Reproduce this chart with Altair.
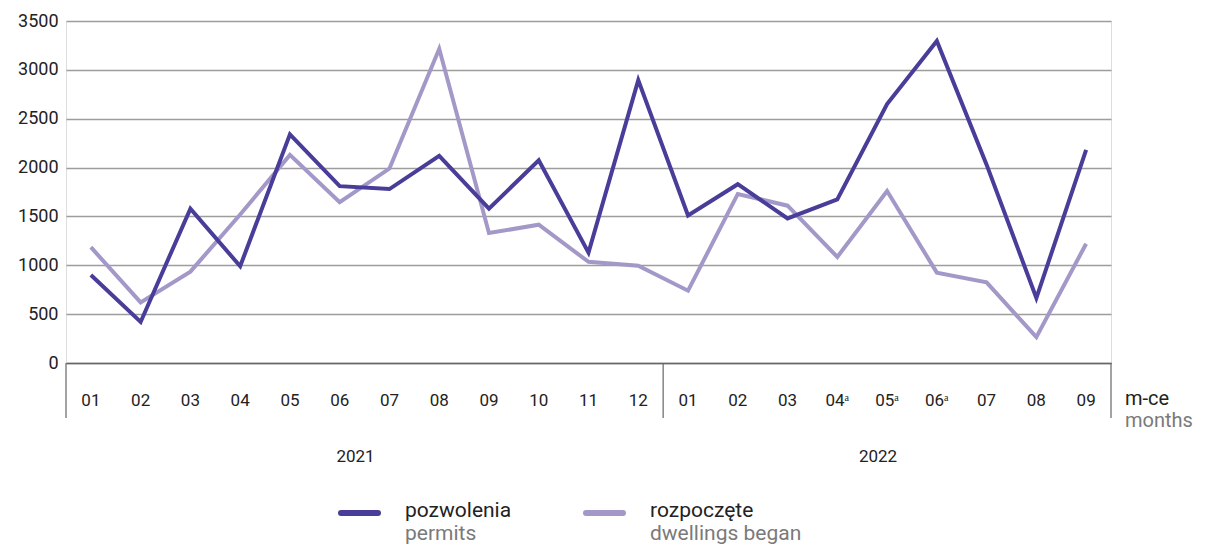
import altair as alt
import pandas as pd

# ---- data ----
years = ["2021"] * 12 + ["2022"] * 9
month_labels = ["01", "02", "03", "04", "05", "06", "07", "08", "09", "10", "11", "12",
                "01", "02", "03", "04ᵃ", "05ᵃ", "06ᵃ", "07", "08", "09"]
permits = [900, 420, 1580, 990, 2340, 1810, 1780, 2120, 1580, 2075, 1130, 2895,
           1510, 1830, 1480, 1675, 2650, 3295, 2030, 665, 2180]
began = [1185, 620, 935, 1520, 2130, 1645, 1990, 3215, 1330, 1415, 1035, 995,
         740, 1730, 1610, 1085, 1760, 925, 825, 265, 1220]
series_pl = ["pozwolenia", "rozpoczęte"]
series_en = ["permits", "dwellings began"]
colors = ["#483d98", "#a398c8"]
y_ticks = [0, 500, 1000, 1500, 2000, 2500, 3000, 3500]

keys = [f"{y} {m}" for y, m in zip(years, month_labels)]
long = pd.concat([
    pd.DataFrame({"key": keys, "value": permits, "series": series_pl[0]}),
    pd.DataFrame({"key": keys, "value": began, "series": series_pl[1]}),
])

W, H = 1045, 342
FONT = "Roboto"

xscale = alt.Scale(domain=keys, paddingInner=0, paddingOuter=0)
yscale = alt.Scale(domain=[0, 3500])
x_axis = alt.Axis(title=None, labelExpr="slice(datum.value, 5)", labelAngle=0,
                  ticks=False, domain=True, domainColor="#666666", domainWidth=1.5,
                  labelPadding=29, labelFontSize=17, labelColor="#222222",
                  labelFont=FONT, grid=False, labelOverlap=False)


def xe(bp=0.5):
    return alt.X("key:N", scale=xscale, sort=keys, bandPosition=bp, axis=x_axis)


y_enc = alt.Y("value:Q", scale=yscale,
              axis=alt.Axis(title=None, values=y_ticks, format="d", grid=True,
                            gridColor="#9d9d9d", gridWidth=1.5, domain=False, ticks=False,
                            labelPadding=8, labelFontSize=18, labelColor="#222222",
                            labelFont=FONT))

base = alt.Chart(long)

line_began = base.transform_filter(alt.datum.series == series_pl[1]).mark_line(
    strokeWidth=4, color=colors[1]).encode(x=xe(), y=y_enc)
line_perm = base.transform_filter(alt.datum.series == series_pl[0]).mark_line(
    strokeWidth=4, color=colors[0]).encode(x=xe(), y=y_enc)

# separators of the year groups on the x axis
seps = []
for k, bp in [(keys[0], 0), (keys[12], 0), (keys[-1], 1)]:
    seps.append(alt.Chart(pd.DataFrame({"key": [k]})).mark_rule(
        color="#666666", strokeWidth=1.2).encode(
        x=xe(bp), y=alt.value(H), y2=alt.value(H + 55)))

# year labels
year_text = []
for k, bp in [(keys[5], 1), (keys[16], 0.5)]:
    year_text.append(alt.Chart(pd.DataFrame({"key": [k], "t": [k[:4]]})).mark_text(
        fontSize=17, font=FONT, color="#222222", dx=-9, baseline="middle").encode(
        x=xe(bp), y=alt.value(H + 94), text="t:N"))

# "m-ce / months" axis title
mce = alt.Chart(pd.DataFrame({"key": [keys[-1]], "t": ["m-ce"]})).mark_text(
    fontSize=20, font=FONT, color="#222222", align="left", dx=14, baseline="middle").encode(
    x=xe(1), y=alt.value(H + 36), text="t:N")
months = alt.Chart(pd.DataFrame({"key": [keys[-1]], "t": ["months"]})).mark_text(
    fontSize=20, font=FONT, color="#7a7a7a", align="left", dx=14, baseline="middle").encode(
    x=xe(1), y=alt.value(H + 58), text="t:N")

# legend (custom, two-line labels)
leg = []
for i, x0 in enumerate([272, 517]):
    leg.append(alt.Chart(pd.DataFrame({"a": [0]})).mark_rule(
        color=colors[i], strokeWidth=6, strokeCap="round").encode(
        x=alt.value(x0 + 3), x2=alt.value(x0 + 40), y=alt.value(492)))
    leg.append(alt.Chart(pd.DataFrame({"t": [series_pl[i]]})).mark_text(
        fontSize=21, font=FONT, color="#222222", align="left", baseline="middle").encode(
        x=alt.value(x0 + 67), y=alt.value(490), text="t:N"))
    leg.append(alt.Chart(pd.DataFrame({"t": [series_en[i]]})).mark_text(
        fontSize=21, font=FONT, color="#7a7a7a", align="left", baseline="middle").encode(
        x=alt.value(x0 + 67), y=alt.value(513), text="t:N"))

chart = alt.layer(line_began, line_perm, *seps, *year_text, mce, months, *leg).properties(
    width=W, height=H,
    autosize=alt.AutoSizeParams(type="none"),
    padding={"left": 58, "top": 13, "right": 84, "bottom": 185},
).configure_view(stroke=None).configure(font=FONT)

chart.save("out.html", embed_options={"renderer": "svg", "actions": False})
